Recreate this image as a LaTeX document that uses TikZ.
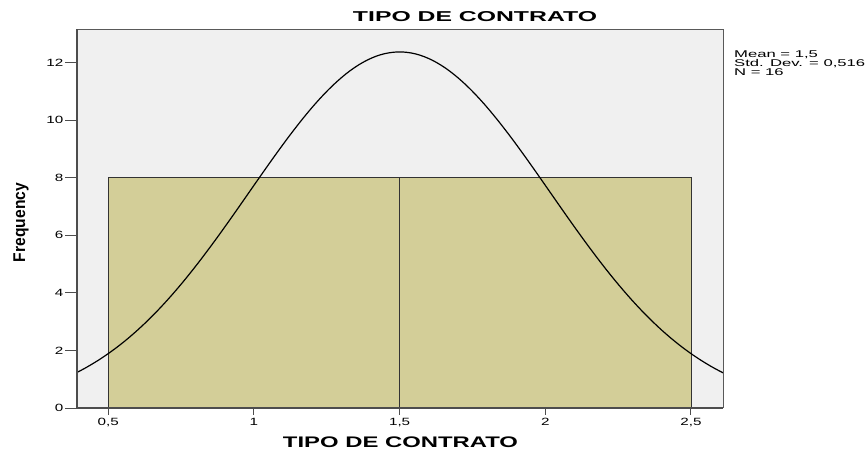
\documentclass[tikz,border=0pt]{standalone}
\usepackage{fontspec}
\setmainfont{Liberation Sans}
\usepackage{graphicx}
\definecolor{plotbg}{HTML}{F0F0F0}
\definecolor{barfill}{HTML}{D3CE98}
\definecolor{axisgray}{HTML}{4D4D4D}
\tikzset{
  ticklab/.style={inner sep=0pt, font=\fontsize{10.5}{12}\selectfont},
  statlab/.style={inner sep=0pt, anchor=base west, font=\fontsize{9.8}{11}\selectfont},
  histbar/.style={fill=barfill, draw=black!80, line width=0.9pt},
}
\newcommand{\widetxt}[2]{\scalebox{#1}[1]{#2}}
\begin{document}
\begin{tikzpicture}[x=1pt,y=-1pt]
\useasboundingbox (0,0) rectangle (868,451);
% plot area
\fill[plotbg] (76.7,29.3) rectangle (723.3,407.7);
\begin{scope}[shift={(-37.4pt,-408pt)},x=291.35pt,y=28.78pt]
  \draw[histbar] (0.5,0) rectangle (1.5,8);
  \draw[histbar] (1.5,0) rectangle (2.5,8);
  \clip (0.3916,0) rectangle (2.611,13.16);
  \draw[line width=1.2pt,domain=0.3916:2.611,samples=150] plot (\x,{16/(0.516*sqrt(2*pi))*exp(-((\x-1.5)^2)/(2*0.516^2))});
\end{scope}
\draw[gray!70!black,line width=1pt] (76.7,29.3) -- (723.3,29.3) -- (723.3,407.7);
\draw[axisgray,line width=1.8pt] (76.7,29.3) -- (76.7,407.7) -- (723.3,407.7);
% ticks
\foreach \v in {0,2,...,12}{
  \draw[axisgray,line width=1pt] (65,{408-28.78*\v}) -- (76.7,{408-28.78*\v});
  \node[ticklab,anchor=east] (y\v) at (63.5,{408-28.78*\v}) {\widetxt{1.45}{\v}};
}
\foreach \v/\t [count=\i] in {0.5/{0,5},1/1,1.5/{1,5},2/2,2.5/{2,5}}{
  \draw[axisgray,line width=1pt] ({-37.4+291.35*\v},408) -- ({-37.4+291.35*\v},415);
  \node[ticklab,anchor=north] (x\i) at ({-37.4+291.35*\v},417.7) {\widetxt{1.45}{\t}};
}
% titles
\node[inner sep=0pt] (title) at (475,16.7) {\resizebox{244pt}{10pt}{\bfseries TIPO DE CONTRATO}};
\node[inner sep=0pt] (xlabel) at (400.5,442) {\resizebox{235pt}{10.7pt}{\bfseries TIPO DE CONTRATO}};
\node[inner sep=0pt,rotate=90,anchor=base] (ylabel) at (25,222.5) {\resizebox{79pt}{11.7pt}{\bfseries Frequency}};
% statistics
\node[statlab] (mean) at (734,57.5) {\widetxt{1.7}{Mean = 1,5}};
\node[statlab] (sd) at (734,66.5) {\widetxt{1.7}{Std. Dev. = 0,516}};
\node[statlab] (n) at (734,75.5) {\widetxt{1.7}{N = 16}};
\end{tikzpicture}
\end{document}
